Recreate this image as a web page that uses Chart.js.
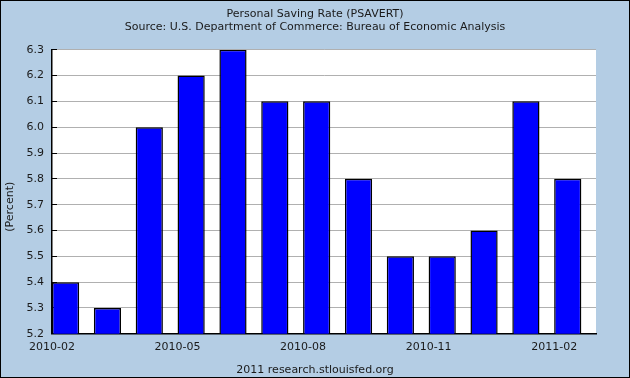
<!DOCTYPE html>
<html>
<head>
<meta charset="utf-8">
<script src="https://cdn.jsdelivr.net/npm/chart.js@4/dist/chart.umd.min.js"></script>
<style>
  html, body { margin: 0; padding: 0; background: #b4cde4; }
  #wrap {
    width: 630px; height: 378px; box-sizing: border-box;
    border: 1px solid #000; background: #b4cde4; position: relative;
  }
  #wrap canvas { display: block; }
</style>
</head>
<body>
<div id="wrap"><canvas id="psavert" width="628" height="376"></canvas></div>
<script>
// Personal Saving Rate, monthly
const meses = ["2010-02", "2010-03", "2010-04", "2010-05", "2010-06", "2010-07",
  "2010-08", "2010-09", "2010-10", "2010-11", "2010-12", "2011-01", "2011-02"];
const tasa_ahorro = [5.4, 5.3, 6.0, 6.2, 6.3, 6.1, 6.1, 5.8, 5.5, 5.5, 5.6, 6.1, 5.8];
const titulo = ["Personal Saving Rate (PSAVERT)",
  "Source: U.S. Department of Commerce: Bureau of Economic Analysis"];
const pie_fuente = "2011 research.stlouisfed.org";
const titulo_y = "(Percent)";

const fuente = "'DejaVu Sans', Verdana, sans-serif";
const ancho_barra = 0.65;

// white plot area + y title a bit below the middle, like the original
const plugin_fondo = {
  id: "fondoBlanco",
  beforeDraw: (chart) => {
    const { ctx, chartArea: a } = chart;
    ctx.save();
    ctx.fillStyle = "#ffffff";
    ctx.fillRect(a.left, a.top, a.right - a.left, a.bottom - a.top);
    ctx.restore();
  },
  afterDraw: (chart) => {
    const ctx = chart.ctx;
    const area = chart.chartArea;
    ctx.save();
    ctx.translate(9, (area.top + area.bottom) / 2 + 15);
    ctx.rotate(-Math.PI / 2);
    ctx.font = "11px " + fuente;
    ctx.fillStyle = "#1a1a1a";
    ctx.textAlign = "center";
    ctx.textBaseline = "middle";
    ctx.fillText(titulo_y, 0, 0);
    ctx.restore();
  },
};

const ctx = document.getElementById("psavert").getContext("2d");
const chart_ahorro = new Chart(ctx, {
  type: "bar",
  data: {
    datasets: [
      {
        label: "PSAVERT",
        data: tasa_ahorro.map((v, i) => ({ x: i, y: v })),
        backgroundColor: "#0000ff",
        borderColor: "#000000",
        borderWidth: 1.5,
        borderSkipped: "start",
        barPercentage: ancho_barra,
        categoryPercentage: 1,
        xAxisID: "x",
      },
    ],
  },
  options: {
    responsive: false,
    animation: false,
    events: [],
    layout: { padding: 0 },
    scales: {
      x: {
        type: "linear",
        display: false,
        offset: false,
        min: -ancho_barra / 2,
        max: meses.length - ancho_barra / 2,
      },
      x2: {
        type: "linear",
        position: "bottom",
        offset: false,
        min: 0,
        max: meses.length,
        afterFit: (s) => { s.height = 20; },
        grid: { drawOnChartArea: false, drawTicks: false },
        border: { display: true, color: "#000000", width: 1.5 },
        ticks: {
          stepSize: 1,
          autoSkip: false,
          maxRotation: 0,
          padding: 7,
          color: "#1a1a1a",
          font: { family: fuente, size: 11 },
          callback: (v) => (v % 3 === 0 && v < meses.length ? meses[v] : ""),
        },
      },
      y: {
        min: 5.2,
        max: 6.3,
        afterFit: (s) => { s.width = 51; },
        grid: { color: "#b0b0b0", lineWidth: 1, tickLength: -5, tickColor: "#000000" },
        border: { display: true, color: "#000000", width: 1.5 },
        ticks: {
          stepSize: 0.1,
          padding: 13,
          color: "#1a1a1a",
          font: { family: fuente, size: 11 },
          callback: (v) => v.toFixed(1),
        },
      },
      // empty strip on the right so the titles stay centred on the whole picture
      derecha: {
        type: "linear",
        position: "right",
        afterFit: (s) => { s.width = 33; },
        grid: { display: false },
        border: { display: false },
        ticks: { display: false },
      },
    },
    plugins: {
      legend: { display: false },
      tooltip: { enabled: false },
      title: {
        display: true,
        text: titulo,
        color: "#1a1a1a",
        font: { family: fuente, size: 11, weight: "normal", lineHeight: 1.1 },
        padding: { top: 7.5, bottom: 17 },
      },
      subtitle: {
        display: true,
        position: "bottom",
        text: pie_fuente,
        color: "#1a1a1a",
        font: { family: fuente, size: 11, weight: "normal" },
        padding: { top: 10, bottom: 0 },
      },
    },
  },
  plugins: [plugin_fondo],
});
</script>
</body>
</html>
